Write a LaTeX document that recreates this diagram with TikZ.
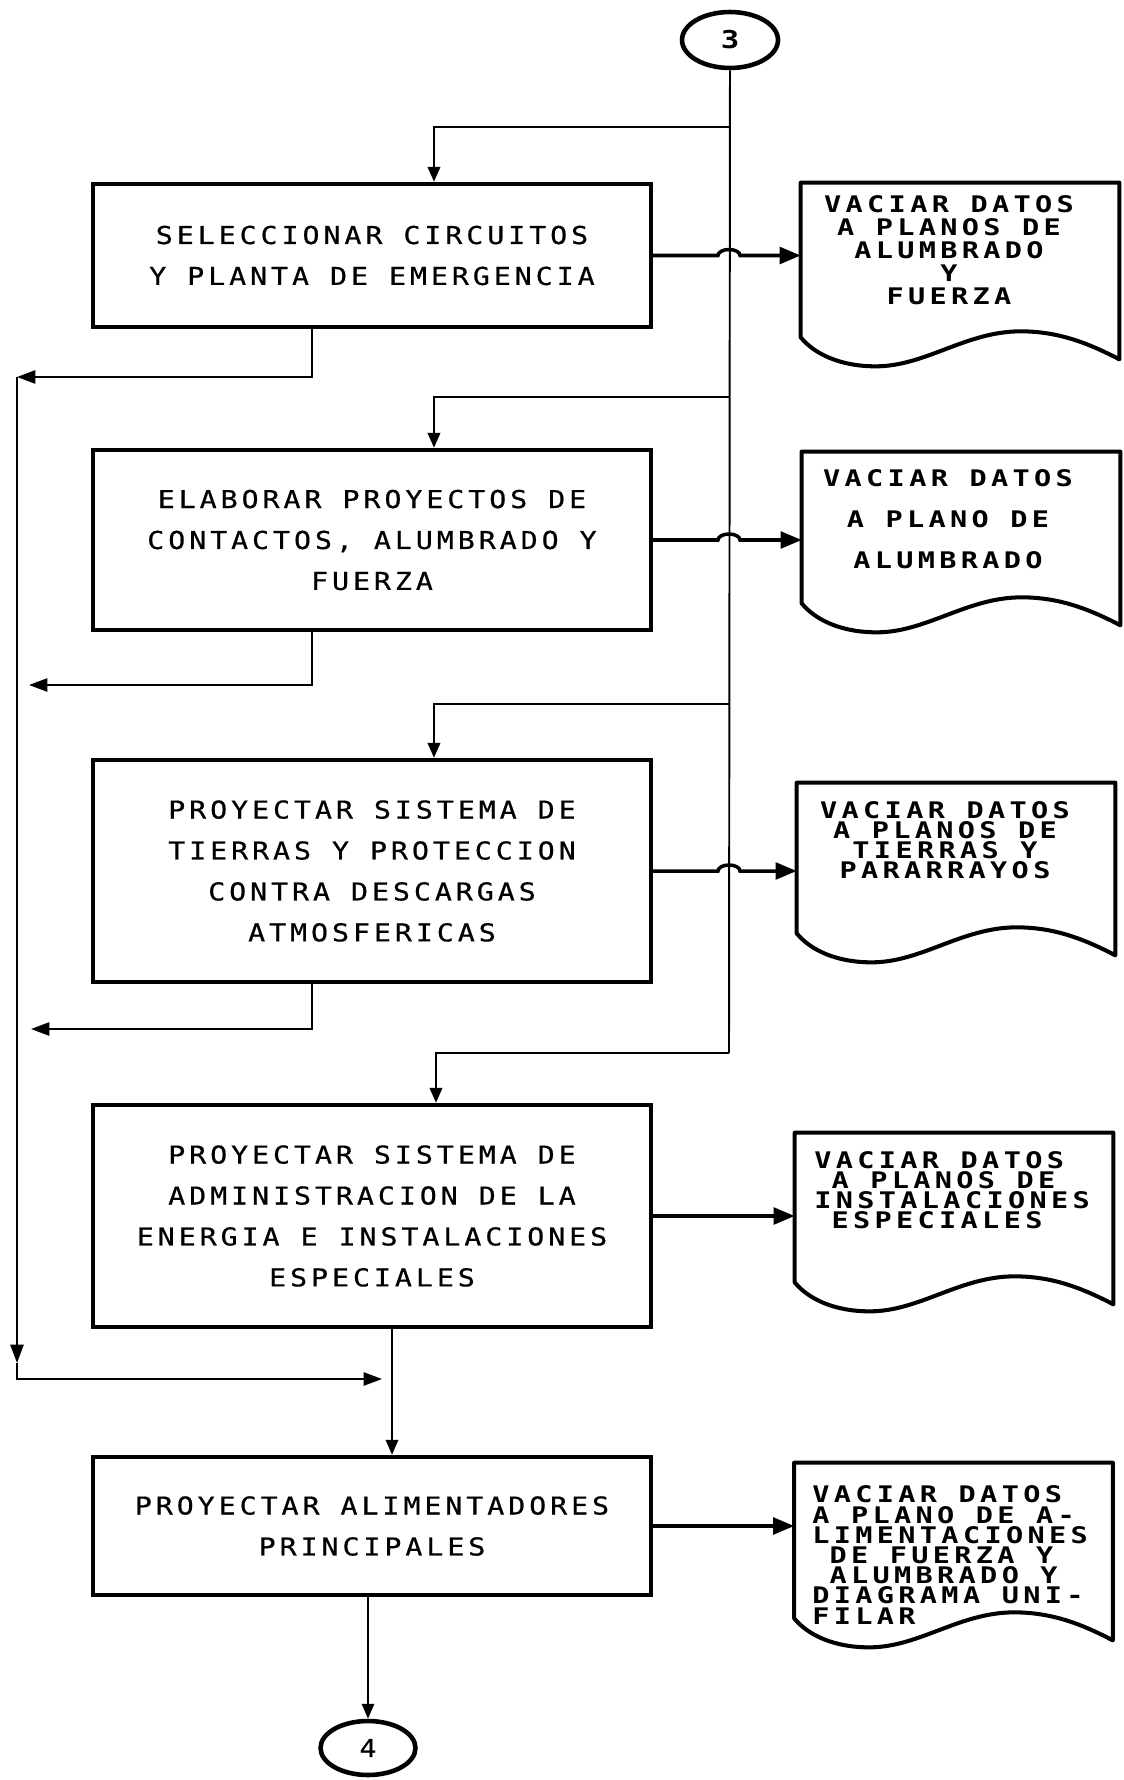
\documentclass[tikz,border=0pt]{standalone}
\usepackage{fontspec}
\usetikzlibrary{arrows.meta,calc,positioning,shapes.geometric}

\newfontfamily\boxfont[FakeStretch=1.15,LetterSpace=16,FakeBold=0.6]{DejaVu Sans Mono}
\newfontfamily\docfont[FakeStretch=1.25,LetterSpace=19]{DejaVu Sans Mono Bold}

% wavy-bottom sheet drawn round an empty node
\newcommand{\hoja}[1]{%
  \draw[borde] (#1.north west) -- (#1.north east)
    -- ([shift={(0,22)}]#1.south east)
    .. controls ([shift={(288,6)}]#1.south west) and ([shift={(258,-6)}]#1.south west)
    .. ([shift={(220,-6)}]#1.south west)
    .. controls ([shift={(165,-6)}]#1.south west) and ([shift={(125,29)}]#1.south west)
    .. ([shift={(75,29)}]#1.south west)
    .. controls ([shift={(40,29)}]#1.south west) and ([shift={(14,17)}]#1.south west)
    .. (#1.south west) -- cycle;}

\begin{document}
\begin{tikzpicture}[x=0.02cm, y=-0.02cm,
		proceso/.style={draw, line width=2.5pt, minimum width=11.16cm, align=center,
				font=\boxfont\fontsize{14}{23.3}\selectfont},
		documento/.style={minimum width=6.36cm, inner sep=0pt},
		textodoc/.style={inner sep=0pt, align=center, font=\docfont\fontsize{13}{11.5}\selectfont},
		conector/.style={draw, ellipse, line width=2.6pt, inner sep=0pt,
				font=\docfont\fontsize{14}{14}\selectfont},
		borde/.style={line width=2.3pt, line join=round},
		tronco/.style={line width=1.1pt},
		ramal/.style={line width=1.5pt, -{Triangle[length=8.5pt,width=7pt]}},
		salida/.style={line width=2pt, -{Triangle[length=12pt,width=9.5pt]}},
		retorno/.style={line width=1.3pt, -{Triangle[length=10.5pt,width=7.5pt]}}
	]
	\useasboundingbox (0,0) rectangle (1124,1780);

	% connectors
	\node[conector, minimum width=1.92cm, minimum height=1.12cm] (c3) at (730,40) {3};
	\node[conector, minimum width=1.9cm, minimum height=1.08cm,
		font=\boxfont\fontsize{14}{14}\selectfont] (c4) at (368,1748) {4};

	% process boxes
	\node[proceso, minimum height=2.86cm] (b1) at (372,255.5)
	{SELECCIONAR CIRCUITOS\\Y PLANTA DE EMERGENCIA};
	\node[proceso, minimum height=3.6cm] (b2) at (372,540)
	{ELABORAR PROYECTOS DE\\CONTACTOS, ALUMBRADO Y\\FUERZA};
	\node[proceso, minimum height=4.44cm] (b3) at (372,871)
	{PROYECTAR SISTEMA DE\\TIERRAS Y PROTECCION\\CONTRA DESCARGAS\\ATMOSFERICAS};
	\node[proceso, minimum height=4.44cm] (b4) at (372,1216)
	{PROYECTAR SISTEMA DE\\ADMINISTRACION DE LA\\ENERGIA E INSTALACIONES\\ESPECIALES};
	\node[proceso, minimum height=2.76cm] (b5) at (372,1526)
	{PROYECTAR ALIMENTADORES\\PRINCIPALES};

	% output sheets
	\node[documento, minimum height=3.08cm] (d1) at (960,260) {};
	\node[documento, minimum height=3.02cm] (d2) at (961,527.5) {};
	\node[documento, minimum height=3cm] (d3) at (956,858) {};
	\node[documento, minimum height=2.98cm] (d4) at (954,1207.5) {};
	\node[documento, minimum height=3.1cm] (d5) at (953.5,1540.5) {};
	\hoja{d1}
	\hoja{d2}
	\hoja{d3}
	\hoja{d4}
	\hoja{d5}

	\node[textodoc, font=\docfont\fontsize{13}{13.1}\selectfont] (d1t) at (949,250)
	{VACIAR DATOS\\A PLANOS DE\\ALUMBRADO\\Y\\FUERZA};
	\node[textodoc, font=\docfont\fontsize{13}{23.3}\selectfont] (d2t) at (948,519)
	{VACIAR DATOS\\A PLANO DE\\ALUMBRADO};
	\node[textodoc] (d3t) at (945,840)
	{VACIAR DATOS\\A PLANOS DE\\TIERRAS Y\\PARARRAYOS};
	\node[textodoc, anchor=west, align=left] (d4t) at (814,1190)
	{VACIAR DATOS\\\phantom{A}A PLANOS DE\\INSTALACIONES\\\phantom{E}ESPECIALES};
	\node[textodoc, anchor=west, align=left] (d5t) at (812,1555)
	{VACIAR DATOS\\A PLANO DE A-\\LIMENTACIONES\\\phantom{D}DE FUERZA Y\\\phantom{A}ALUMBRADO Y\\DIAGRAMA UNI-\\FILAR};

	% trunk from connector 3 and its branches
	\coordinate (t1) at (729,127);
	\coordinate (t2) at (729,397);
	\coordinate (t3) at (729,704);
	\coordinate (t4) at (729,1053);
	\draw[tronco] (c3) -- (t4);
	\draw[ramal] (t1) -| ([xshift=1.24cm]b1.north);
	\draw[ramal] (t2) -| ([xshift=1.24cm]b2.north);
	\draw[ramal] (t3) -| ([xshift=1.24cm]b3.north);
	\draw[ramal] (t4) -| ([xshift=1.28cm]b4.north);

	% outputs, jumping over the trunk
	\draw[salida] (b1.east) -- ($(b1.east -| t1)+(-11,0)$)
	arc[start angle=180, end angle=0, x radius=0.22cm, y radius=0.12cm]
	-- (d1.west |- b1.east);
	\draw[salida] (b2.east) -- ($(b2.east -| t2)+(-11,0)$)
	arc[start angle=180, end angle=0, x radius=0.22cm, y radius=0.12cm]
	-- (d2.west |- b2.east);
	\draw[salida] (b3.east) -- ($(b3.east -| t3)+(-11,0)$)
	arc[start angle=180, end angle=0, x radius=0.22cm, y radius=0.12cm]
	-- (d3.west |- b3.east);
	\draw[salida] (b4.east) -- (d4.west |- b4.east);
	\draw[salida] (b5.east) -- (d5.west |- b5.east);

	% return loop on the left
	\coordinate (lt) at (17,377);
	\coordinate (r2) at (29,685);
	\coordinate (r3) at (31,1029);
	\coordinate (lm) at (17,1363);
	\coordinate (m5) at (382,1379);
	\draw[retorno] ([xshift=-1.2cm]b1.south) |- (lt);
	\draw[retorno] ([xshift=-1.2cm]b2.south) |- (r2);
	\draw[retorno] ([xshift=-1.2cm]b3.south) |- (r3);
	\draw[retorno] (lt) -- (lm);
	\draw[retorno] (lm) |- (m5);

	% down to the last box and connector 4
	\draw[ramal, line width=1.1pt] ([xshift=0.4cm]b4.south) -- ([xshift=0.4cm]b5.north);
	\draw[ramal, line width=1.1pt] (b5.south -| c4) -- (c4);
\end{tikzpicture}
\end{document}
